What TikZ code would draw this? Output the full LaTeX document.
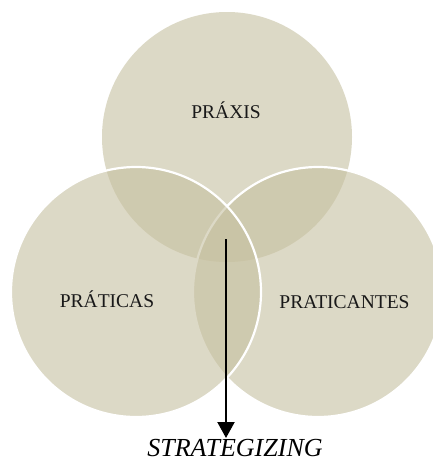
\documentclass[tikz,border=0pt]{standalone}
\usepackage{fontspec}
\setmainfont{Liberation Serif}
\usetikzlibrary{arrows.meta}
\definecolor{venn}{RGB}{198,192,160}
\tikzset{
  venncircle/.style={circle, minimum size=250pt, inner sep=0pt, fill=venn, fill opacity=0.6},
  whiteedge/.style={draw=white, line width=2.2pt},
  label/.style={font=\fontsize{19.5}{22}\selectfont, anchor=base, inner sep=0pt, text=black!90},
}
\begin{document}
\begin{tikzpicture}[x=1pt,y=-1pt]
\useasboundingbox (0,0) rectangle (433,466);
\fill[white] (0,0) rectangle (433,466);
\begin{scope}
\clip (0,0) rectangle (433,466);
\node[venncircle] (top) at (227,137) {};
\node[venncircle, whiteedge] (right) at (318,292) {};
\node[venncircle, whiteedge] (left) at (136,292) {};
\end{scope}
\node[label] (praxis) at (226,118) {PRÁXIS};
\node[label] (praticas) at (107,307) {PRÁTICAS};
\node[label] (praticantes) at (344.5,308) {PRATICANTES};
\coordinate (start) at (226,239);
\node[font=\itshape\fontsize{26}{30}\selectfont, anchor=base, inner sep=0pt] (strat) at (235,456) {STRATEGIZING};
\coordinate (tip) at (226,438);
\draw[line width=2.2pt, -{Triangle[width=17pt,length=16pt]}] (start) -- (tip);
\end{tikzpicture}
\end{document}
